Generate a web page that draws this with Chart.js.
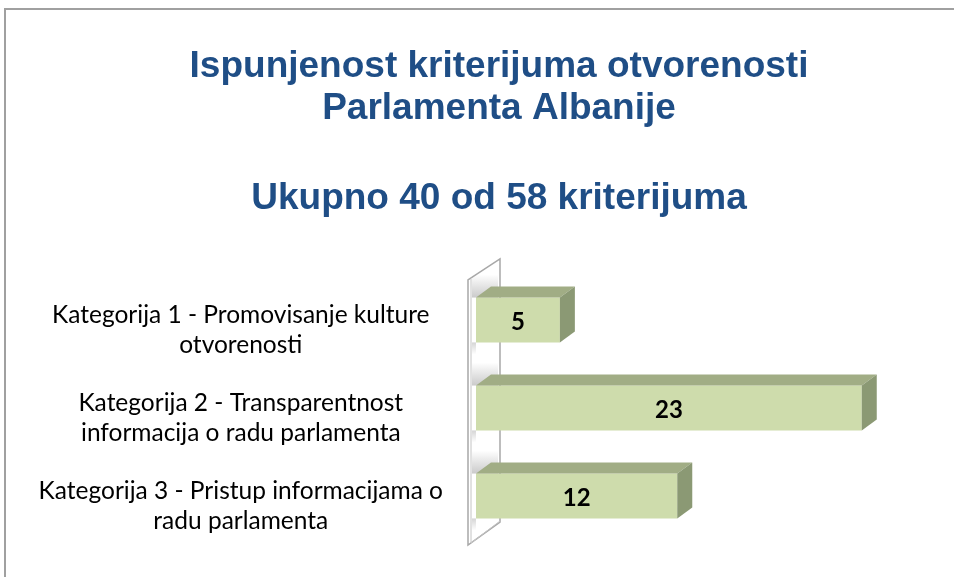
<!DOCTYPE html>
<html>
<head>
<meta charset="utf-8">
<script src="https://cdn.jsdelivr.net/npm/chart.js@4/dist/chart.umd.min.js"></script>
<style>
  html, body { margin: 0; padding: 0; background: #fff; }
  #wrap { width: 954px; height: 577px; }
</style>
</head>
<body>
<div id="wrap"><canvas id="kriterijumi-chart" width="954" height="577"></canvas></div>
<script>
const titleLines = ['Ispunjenost kriterijuma otvorenosti', 'Parlamenta Albanije'];
const subtitleText = 'Ukupno 40 od 58 kriterijuma';
const categories = [
    ['Kategorija 1 - Promovisanje kulture', 'otvorenosti'],
    ['Kategorija 2 - Transparentnost', 'informacija o radu parlamenta'],
    ['Kategorija 3 - Pristup informacijama o', 'radu parlamenta']
];
const values = [5, 23, 12];
const axisMax = 28.5;

const colorFront = '#cedcac';
const colorTop = '#a1ad85';
const colorSide = '#8b9974';
const colorTitle = '#1f4e86';
const depthX = 15;
const depthY = 11;

// frame, back wall and the 3d faces of the bars
const bars3d = {
    id: 'bars3d',
    beforeDraw(chart) {
        const ctx = chart.ctx;
        ctx.save();
        ctx.fillStyle = '#fff';
        ctx.fillRect(0, 0, chart.width, chart.height);
        ctx.strokeStyle = '#a0a0a0';
        ctx.lineWidth = 2;
        ctx.beginPath();
        ctx.moveTo(5, chart.height);
        ctx.lineTo(5, 9);
        ctx.lineTo(chart.width, 9);
        ctx.stroke();
        ctx.restore();
    },
    beforeDatasetsDraw(chart) {
        const ctx = chart.ctx;
        const ca = chart.chartArea;
        const fx = ca.left - 8, bx = ca.left + 24;
        ctx.save();
        ctx.beginPath();
        ctx.moveTo(fx, ca.top + 4);
        ctx.lineTo(bx, ca.top - 17);
        ctx.lineTo(bx, ca.bottom - 18);
        ctx.lineTo(fx, ca.bottom + 5);
        ctx.closePath();
        ctx.fillStyle = '#fff';
        ctx.fill();
        ctx.strokeStyle = '#a8a8a8';
        ctx.lineWidth = 1.5;
        ctx.stroke();
        ctx.beginPath();
        ctx.moveTo(fx + 3, ca.top + 3);
        ctx.lineTo(fx + 3, ca.bottom + 3);
        ctx.lineTo(bx, ca.bottom - 19);
        ctx.strokeStyle = '#c4c4c4';
        ctx.lineWidth = 1;
        ctx.stroke();

        // soft shadow on the wall behind each bar
        chart.getDatasetMeta(0).data.forEach(function(bar) {
            const top = bar.y - bar.height / 2;
            const g = ctx.createLinearGradient(0, top - depthY - 12, 0, top);
            g.addColorStop(0, 'rgba(150,150,150,0)');
            g.addColorStop(1, 'rgba(150,150,150,0.5)');
            ctx.fillStyle = g;
            ctx.fillRect(fx + 4, top - depthY - 12, bx - fx - 6, depthY + 12);
            const g2 = ctx.createLinearGradient(0, top + bar.height, 0, top + bar.height + 12);
            g2.addColorStop(0, 'rgba(150,150,150,0.4)');
            g2.addColorStop(1, 'rgba(150,150,150,0)');
            ctx.fillStyle = g2;
            ctx.fillRect(fx + 4, top + bar.height, ca.left - fx - 4, 12);
        });
        ctx.restore();
    },
    afterDatasetsDraw(chart) {
        const ctx = chart.ctx;
        ctx.save();
        chart.getDatasetMeta(0).data.forEach(function(bar, i) {
            const x0 = bar.base, x1 = bar.x;
            const y0 = bar.y - bar.height / 2, y1 = bar.y + bar.height / 2;

            ctx.fillStyle = colorTop;
            ctx.beginPath();
            ctx.moveTo(x0, y0);
            ctx.lineTo(x0 + depthX, y0 - depthY);
            ctx.lineTo(x1 + depthX, y0 - depthY);
            ctx.lineTo(x1, y0);
            ctx.closePath();
            ctx.fill();

            ctx.fillStyle = colorSide;
            ctx.beginPath();
            ctx.moveTo(x1, y0);
            ctx.lineTo(x1 + depthX, y0 - depthY);
            ctx.lineTo(x1 + depthX, y1 - depthY);
            ctx.lineTo(x1, y1);
            ctx.closePath();
            ctx.fill();

            ctx.fillStyle = '#000';
            ctx.font = 'bold 24px Lato';
            ctx.textAlign = 'center';
            ctx.textBaseline = 'middle';
            ctx.fillText(values[i], (x0 + x1) / 2, bar.y + 2);
        });
        ctx.restore();
    }
};

new Chart(document.getElementById('kriterijumi-chart'), {
    type: 'bar',
    data: {
        labels: categories,
        datasets: [{
            data: values,
            backgroundColor: colorFront,
            borderWidth: 0,
            barPercentage: 0.51,
            categoryPercentage: 1
        }]
    },
    plugins: [bars3d],
    options: {
        indexAxis: 'y',
        responsive: false,
        animation: false,
        layout: { padding: { left: 20, right: -24, top: 0, bottom: 37 } },
        plugins: {
            legend: { display: false },
            tooltip: { enabled: false },
            title: {
                display: true,
                text: titleLines,
                color: colorTitle,
                font: { family: 'Liberation Sans', size: 37, weight: 'bold', lineHeight: 1.135 },
                padding: { top: 46, bottom: 0 }
            },
            subtitle: {
                display: true,
                text: subtitleText,
                color: colorTitle,
                font: { family: 'Liberation Sans', size: 37, weight: 'bold', lineHeight: 1.135 },
                padding: { top: 48, bottom: 56 }
            }
        },
        scales: {
            x: {
                display: false,
                min: 0,
                max: axisMax
            },
            y: {
                grid: { display: false },
                border: { display: false },
                afterFit: function(scale) {
                    scale.width = 456;
                    scale.paddingTop = 0;
                    scale.paddingBottom = 0;
                },
                ticks: {
                    color: '#000',
                    font: { family: 'Lato', size: 24.5, lineHeight: 1.25 },
                    crossAlign: 'center',
                    padding: 25,
                    labelOffset: 10
                }
            }
        }
    }
});
</script>
</body>
</html>
